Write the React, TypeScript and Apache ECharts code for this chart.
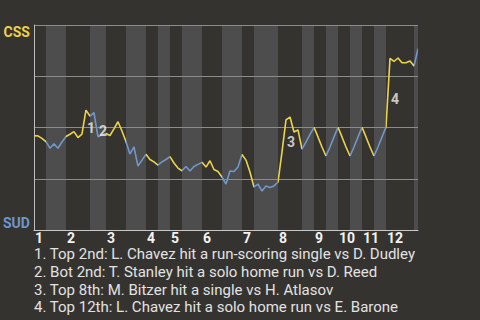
import React, { useEffect, useRef } from "react";
import * as echarts from "echarts";

// Start index (plate appearance count) of each half inning: top 1st, bottom 1st, top 2nd, ...
const halfInningStarts = [0, 3, 8, 14, 18, 23, 28, 31, 34, 37, 42, 47, 52, 55, 61, 67, 70, 73, 76, 79, 82, 85, 88, 95];
const totalPlays = 96;
const inningLabels = ["1", "2", "3", "4", "5", "6", "7", "8", "9", "10", "11", "12"];

// CSS win probability (%) after each plate appearance
const winProb = [
  46.0, 45.9, 44.7, 43.1, 39.9, 42.0, 39.9, 42.9, 45.6, 46.7,
  48.0, 45.1, 46.8, 58.5, 55.6, 57.2, 45.5, 46.3, 47.1, 46.1,
  49.3, 52.8, 48.3, 43.2, 37.1, 40.5, 31.2, 34.1, 36.9, 34.4,
  33.2, 31.7, 33.2, 34.4, 35.8, 32.7, 30.2, 28.9, 31.0, 28.8,
  31.0, 32.0, 33.0, 30.7, 33.8, 29.5, 28.5, 25.9, 22.4, 28.8,
  28.5, 30.7, 36.8, 34.1, 28.3, 21.0, 22.4, 19.0, 21.5, 20.7,
  21.5, 23.4, 38.0, 53.7, 55.1, 47.8, 48.8, 39.5, 42.9, 46.6,
  50.1, 45.4, 40.5, 36.1, 40.5, 45.4, 50.1, 45.4, 40.5, 36.1,
  40.5, 45.4, 50.1, 45.4, 40.5, 36.1, 40.5, 45.4, 50.2, 83.7,
  82.2, 83.9, 81.6, 81.6, 82.4, 80.0, 88.5,
];

// Plate appearance index at which each key event ends
const keyEvents = [13, 16, 63, 89];
const eventNotes = [
  "1. Top 2nd: L. Chavez hit a run-scoring single vs D. Dudley",
  "2. Bot 2nd: T. Stanley hit a solo home run vs D. Reed",
  "3. Top 8th: M. Bitzer hit a single vs H. Atlasov",
  "4. Top 12th: L. Chavez hit a solo home run vs E. Barone",
];

const teamTop = "CSS";
const teamBottom = "SUD";

const YELLOW = "#ecd24a";
const BLUE = "#6f97c9";
const BG = "#353330";
const BAND = "#4d4d4d";

export default function App() {
  const ref = useRef<HTMLDivElement>(null);

  useEffect(() => {
    const chart = echarts.init(ref.current!, null, { renderer: "svg" });

    const ends = halfInningStarts.map((s, i) =>
      i + 1 < halfInningStarts.length ? halfInningStarts[i + 1] : totalPlays
    );
    const bands = halfInningStarts
      .map((s, i) => [s, ends[i], i])
      .filter((b) => b[2] % 2 === 1)
      .map((b) => [b[0], b[1]]);
    const topStarts = halfInningStarts.filter((_, i) => i % 2 === 0);

    const pieces = halfInningStarts.map((s, i) => {
      const last = i === halfInningStarts.length - 1;
      const p: any = { gte: s, color: i % 2 === 0 ? YELLOW : BLUE };
      if (last) p.lte = ends[i];
      else p.lt = ends[i];
      return p;
    });

    const lineData = winProb.map((v, i) => [i, v]);
    const eventData = keyEvents.map((idx) => [idx - 0.5, (winProb[idx - 1] + winProb[idx]) / 2]);

    chart.setOption({
      animation: false,
      backgroundColor: BG,
      textStyle: { fontFamily: "Roboto" },
      grid: { left: 33, right: 62, top: 25, bottom: 90, containLabel: false },
      xAxis: {
        type: "value",
        min: 0,
        max: totalPlays,
        z: 2,
        axisLine: { show: true, lineStyle: { color: "#c8c8c8", width: 1 } },
        axisTick: { show: false },
        splitLine: { show: false },
        axisLabel: {
          customValues: topStarts,
          formatter: (v: number) => inningLabels[topStarts.indexOf(v)] ?? "",
          color: "#f2f2f2",
          fontWeight: "bold",
          fontSize: 14,
          lineHeight: 14,
          align: "left",
          margin: 1,
          padding: [0, 0, 0, 1],
        },
      },
      yAxis: {
        type: "value",
        min: 0,
        max: 100,
        interval: 25,
        z: 2,
        axisLine: { show: true, lineStyle: { color: "#bdbdbd", width: 1 } },
        axisTick: { show: false },
        splitLine: { show: true, lineStyle: { color: "#8c8c8c", width: 1 } },
        axisLabel: {
          customValues: [0, 100],
          formatter: (v: number) => (v === 100 ? `{t|${teamTop}}` : `{b|${teamBottom}}`),
          margin: 4,
          verticalAlignMinLabel: "bottom",
          verticalAlignMaxLabel: "top",
          rich: {
            t: { color: YELLOW, fontWeight: "bold", fontSize: 14, fontFamily: "Roboto" },
            b: { color: BLUE, fontWeight: "bold", fontSize: 14, fontFamily: "Roboto" },
          },
        },
      },
      visualMap: {
        show: false,
        type: "piecewise",
        dimension: 0,
        seriesIndex: 1,
        pieces,
      },
      series: [
        {
          type: "custom",
          z: 1,
          silent: true,
          data: bands,
          encode: { x: [0, 1] },
          renderItem: (params: any, api: any) => {
            const p0 = api.coord([api.value(0), 100]);
            const p1 = api.coord([api.value(1), 0]);
            return {
              type: "rect",
              shape: { x: p0[0], y: p0[1], width: p1[0] - p0[0], height: p1[1] - p0[1] },
              style: { fill: BAND },
            };
          },
        },
        {
          type: "line",
          z: 3,
          data: lineData,
          showSymbol: false,
          symbol: "none",
          lineStyle: { width: 1.6 },
        },
        {
          type: "scatter",
          z: 4,
          data: eventData,
          symbolSize: 1,
          itemStyle: { color: "rgba(0,0,0,0)" },
          label: {
            show: true,
            position: "inside",
            offset: [7, 6],
            formatter: (p: any) => String(p.dataIndex + 1),
            color: "#f0f0f0",
            fontWeight: "bold",
            fontSize: 14,
            fontFamily: "Roboto",
          },
        },
      ],
      graphic: eventNotes.map((t, i) => ({
        type: "text",
        x: 34,
        y: 254 + i * 17.8,
        style: {
          text: t,
          fill: "#e2e2e2",
          font: "15px Roboto",
          lineHeight: 15,
          verticalAlign: "middle",
        },
      })),
    });

    return () => chart.dispose();
  }, []);

  return (
    <div
      ref={ref}
      style={{ position: "absolute", left: 0, top: 0, width: 480, height: 320, background: BG }}
    />
  );
}
